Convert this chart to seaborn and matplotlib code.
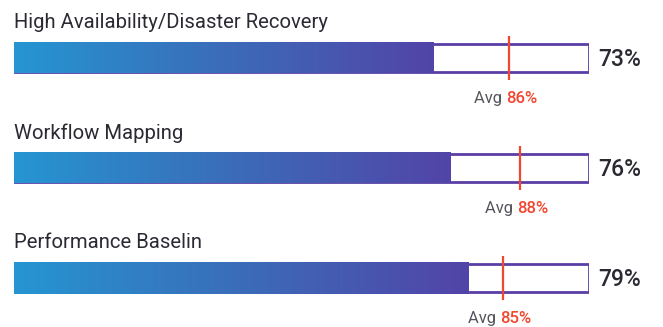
import numpy as np
import matplotlib.pyplot as plt
import seaborn as sns
from matplotlib.colors import LinearSegmentedColormap

categories = ["High Availability/Disaster Recovery", "Workflow Mapping", "Performance Baselin"]
scores = [73, 76, 79]
averages = [86, 88, 85]

sns.set_theme(style="white")
plt.rcParams["font.family"] = ["Roboto", "DejaVu Sans"]

dark = "#2b2a33"
red = "#f2462f"
purple = "#5a3ea6"
grad = LinearSegmentedColormap.from_list("bar", ["#2596d2", "#3b6cb9", "#5244a8"])

fig = plt.figure(figsize=(6.63, 3.27), dpi=100)
ax = fig.add_axes([14 / 663, 0, 575 / 663, 1])

bar_h = 28 / 110
ypos = np.arange(len(categories))

# background track
sns.barplot(x=[100] * len(categories), y=ypos, orient="h", order=ypos,
            color="white", edgecolor=purple, linewidth=2, width=bar_h,
            saturation=1, ax=ax, zorder=1)

# gradient fill for each score
g = np.linspace(0, 1, 256).reshape(1, -1)
fill_h = 31 / 110
for i, v in enumerate(scores):
    ax.imshow(g, cmap=grad, aspect="auto", zorder=3,
              extent=(-0.2, v, i + fill_h / 2, i - fill_h / 2))

# avg markers
ax.vlines(averages, ypos - 0.2, ypos + 0.2, color=red, lw=1.6, zorder=4)

for i, (cat, v, a) in enumerate(zip(categories, scores, averages)):
    ax.text(0, i - 0.32, cat, fontsize=14.6, color=dark, va="center", ha="left")
    ax.text(101.6, i + 0.01, f"{v}%", fontsize=16.5, color=dark, fontweight="medium",
            va="center", ha="left")
    ax.annotate("Avg ", (a, i + 0.37), xytext=(-2, 0), textcoords="offset points",
                fontsize=12, color="#55545c", va="center", ha="right")
    ax.annotate(f"{a}%", (a, i + 0.37), xytext=(-2, 0), textcoords="offset points",
                fontsize=12, color=red, fontweight="medium", va="center", ha="left")

ax.set_xlim(0, 100)
ax.set_ylim((327 - 58) / 110, -58 / 110)
ax.axis("off")

fig.savefig("out.png", dpi=100)
